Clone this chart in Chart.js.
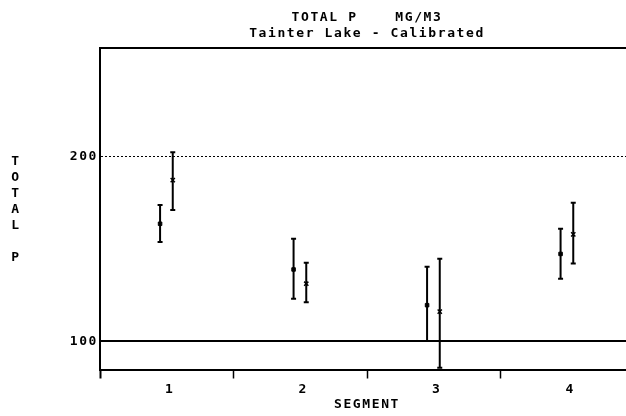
<!DOCTYPE html>
<html>
<head>
<meta charset="utf-8">
<script src="https://cdn.jsdelivr.net/npm/chart.js@4"></script>
<style>
  html, body { margin: 0; padding: 0; background: #fff; overflow: hidden; }
  canvas { display: block; }
</style>
</head>
<body>
<canvas id="chart" width="640" height="416"></canvas>
<script>
// segments and the observed / predicted total P (mg/m3) with their ranges
const segments = [1, 2, 3, 4];
const obsMean = [163.6, 138.9, 119.6, 147.3];
const obsLow = [153.7, 123.1, 100.2, 133.9];
const obsHigh = [173.7, 155.5, 140.4, 160.9];
const predMean = [187.2, 131.2, 116.1, 157.9];
const predLow = [171.0, 121.2, 85.8, 142.1];
const predHigh = [202.3, 142.5, 144.7, 174.9];
const yTickValues = [100, 200];
const titleLines = ["TOTAL P    MG/M3", "Tainter Lake - Calibrated"];
const yTitle = ["T", "O", "T", "A", "L", "", "P"];
const xTitle = "SEGMENT";

const Y_MIN = 84.3, Y_MAX = 258.6;
// observed drawn a bit left of the segment, predicted a bit right
const OBS_OFF = -0.05, PRED_OFF = 0.045;

Chart.defaults.font.family = "'DejaVu Sans Mono', monospace";
Chart.defaults.font.weight = "bold";
Chart.defaults.font.size = 13;
Chart.defaults.color = "#000";

function bars(off, lo, hi) {
  return segments.map((s, i) => ({ x: s + off, y: [lo[i], hi[i]] }));
}
function pts(off, vals) {
  return segments.map((s, i) => ({ x: s + off, y: vals[i] }));
}

// the old plotter font is wide, spread the letters a bit
const wideText = {
  id: "wideText",
  beforeDraw(chart) {
    chart.ctx.letterSpacing = "1.6px";
  }
};

// stacked y axis title, the library only draws it rotated
const stackedTitle = {
  id: "stackedTitle",
  afterDraw(chart) {
    const ctx = chart.ctx;
    ctx.save();
    ctx.font = "bold 13px 'DejaVu Sans Mono'";
    ctx.fillStyle = "#000";
    ctx.textAlign = "center";
    ctx.textBaseline = "middle";
    yTitle.forEach((ch, i) => ctx.fillText(ch, 16, 162 + i * 16));
    ctx.restore();
  }
};

new Chart(document.getElementById("chart"), {
  type: "scatter",
  data: {
    datasets: [
      {
        type: "bar", data: bars(OBS_OFF, obsLow, obsHigh),
        backgroundColor: "#000", borderWidth: 0, grouped: false, maxBarThickness: 2
      },
      {
        type: "bar", data: bars(PRED_OFF, predLow, predHigh),
        backgroundColor: "#000", borderWidth: 0, grouped: false, maxBarThickness: 2
      },
      {
        data: pts(OBS_OFF, obsLow).concat(pts(OBS_OFF, obsHigh), pts(PRED_OFF, predLow), pts(PRED_OFF, predHigh)),
        pointStyle: "line", pointRadius: 2.5, borderColor: "#000", borderWidth: 2
      },
      {
        data: pts(OBS_OFF, obsMean),
        pointStyle: "rect", pointRadius: 2.5, backgroundColor: "#000", borderColor: "#000", borderWidth: 1
      },
      {
        data: pts(PRED_OFF, predMean),
        pointStyle: "crossRot", pointRadius: 3, borderColor: "#000", borderWidth: 1.5
      }
    ]
  },
  options: {
    responsive: false,
    animation: false,
    layout: { padding: { left: 0, right: 4, top: 0, bottom: 3.5 } },
    plugins: {
      legend: { display: false },
      tooltip: { enabled: false },
      title: {
        display: true,
        text: titleLines,
        fullSize: false,
        font: { size: 13, lineHeight: 1.231 },
        padding: { top: 10, bottom: 6 }
      }
    },
    scales: {
      x: {
        type: "linear",
        min: 0.5,
        max: 4.5,
        offset: false,
        afterBuildTicks: (scale) => {
          const t = [];
          for (let v = 0.5; v <= 4.5; v += 0.5) t.push({ value: v });
          scale.ticks = t;
        },
        ticks: {
          autoSkip: false,
          maxRotation: 0,
          padding: 3.5,
          labelOffset: 3,
          font: { lineHeight: 1.154 },
          callback: (v) => Number.isInteger(v) ? String(v) : ""
        },
        grid: {
          offset: false,
          drawOnChartArea: false,
          drawTicks: true,
          tickLength: 8,
          tickColor: (c) => (c.tick && !Number.isInteger(c.tick.value)) ? "#000" : "rgba(0,0,0,0)",
          tickWidth: (c) => (c.tick && c.tick.value === 0.5) ? 2 : 1.5
        },
        border: { color: "#000", width: 2 },
        title: {
          display: true,
          text: xTitle,
          font: { lineHeight: 1.154 },
          padding: { top: -3, bottom: 0 }
        }
      },
      y: {
        min: Y_MIN,
        max: Y_MAX,
        afterFit: (scale) => { scale.width = 100; },
        afterBuildTicks: (scale) => {
          scale.ticks = yTickValues.concat([Y_MAX]).map(v => ({ value: v }));
        },
        ticks: {
          padding: 2,
          font: { lineHeight: 1 },
          callback: (v) => yTickValues.includes(v) ? String(v) : ""
        },
        grid: {
          drawTicks: false,
          color: "#000",
          lineWidth: (c) => (c.tick && c.tick.value === 200) ? 1 : 2
        },
        border: {
          color: "#000",
          width: 2,
          dash: (c) => (c.tick && c.tick.value === 200) ? [2, 2] : []
        }
      }
    }
  },
  plugins: [wideText, stackedTitle]
});
</script>
</body>
</html>
